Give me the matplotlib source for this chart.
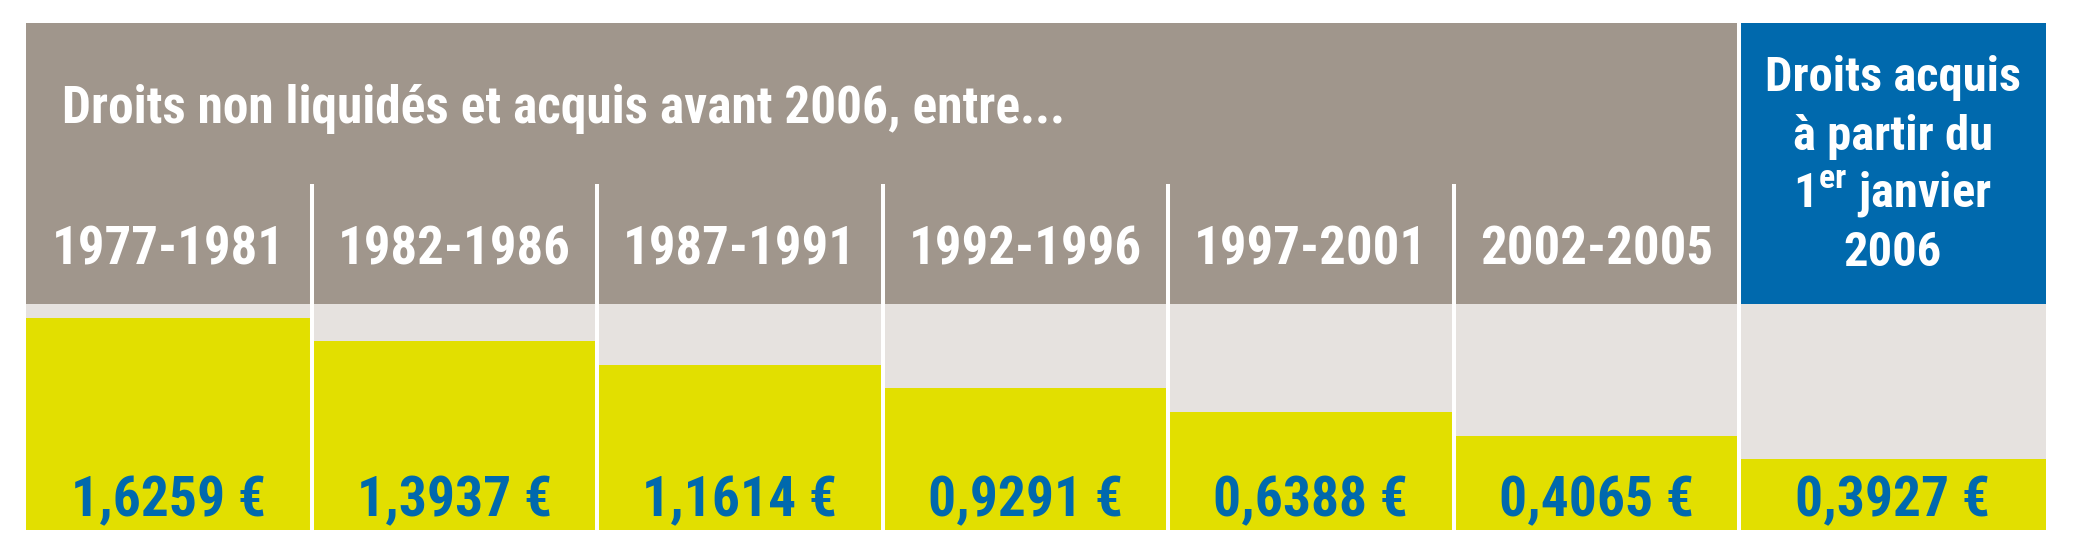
import numpy as np
import matplotlib.pyplot as plt

plt.rcParams['font.family'] = ['Roboto Condensed', 'Fira Sans Condensed', 'DejaVu Sans']
plt.rcParams['mathtext.fontset'] = 'custom'
plt.rcParams['mathtext.rm'] = 'Roboto Condensed:bold'
plt.rcParams['mathtext.bf'] = 'Roboto Condensed:bold'

# data
periods = ['1977-1981', '1982-1986', '1987-1991', '1992-1996',
           '1997-2001', '2002-2005']
last_lines = ['Droits acquis', 'à partir du', '1$^{\\mathrm{er}}$ janvier', '2006']
title = 'Droits non liquidés et acquis avant 2006, entre...'
values = [1.6259, 1.3937, 1.1614, 0.9291, 0.6388, 0.4065, 0.3927]
value_labels = ['1,6259 €', '1,3937 €', '1,1614 €', '0,9291 €',
                '0,6388 €', '0,4065 €', '0,3927 €']

grey = '#A0968C'
light = '#E6E2DF'
yellow = '#E2DF00'
blue = '#0069AD'

# column layout: six equal columns, last one a bit wider
widths = np.array([1, 1, 1, 1, 1, 1, 1.075])
edges = np.concatenate([[0], np.cumsum(widths)])
centers = edges[:-1] + widths / 2

# bars are drawn by rank (stylised steps, not proportional)
ranks = np.argsort(np.argsort(values)) + 1
heights = ranks + 2

fig = plt.figure(figsize=(20.77, 5.57), dpi=100)

# header
axh = fig.add_axes([0.01252, 0.4542, 0.97256, 0.5045])
axh.set_xlim(0, edges[-1])
axh.set_ylim(0, 1)
axh.axvspan(0, edges[6], color=grey, lw=0)
axh.axvspan(edges[6], edges[-1], color=blue, lw=0)
axh.vlines(edges[1:6], 0, 0.427, color='white', lw=2.9)
axh.vlines(edges[6], 0, 1, color='white', lw=2.9)
axh.text(0.126, 0.644, title, color='white', fontsize=37, fontweight='bold',
         va='baseline', ha='left')
for c, lab in zip(centers[:6], periods):
    axh.text(c, 0.139, lab, color='white', fontsize=38, fontweight='bold',
             ha='center', va='baseline')
for i, line in enumerate(last_lines):
    axh.text(centers[6], 0.757 - i * 0.2073, line, color='white', fontsize=35,
             fontweight='bold', ha='center', va='baseline')
axh.axis('off')

# bars
ax = fig.add_axes([0.01252, 0.04847, 0.97256, 0.4057])
ax.set_facecolor(light)
ax.bar(centers, heights, width=widths, color=yellow, lw=0)
ax.set_xlim(0, edges[-1])
ax.set_ylim(0, 9.58)
ax.vlines(edges[1:-1], 0, 9.58, color='white', lw=2.9)
for c, lab in zip(centers, value_labels):
    ax.text(c, 0.059, lab, color=blue, fontsize=40, fontweight='bold',
            ha='center', va='baseline', transform=ax.get_xaxis_transform())
ax.set_xticks([])
ax.set_yticks([])
for s in ax.spines.values():
    s.set_visible(False)

fig.savefig('out.png', dpi=100)
